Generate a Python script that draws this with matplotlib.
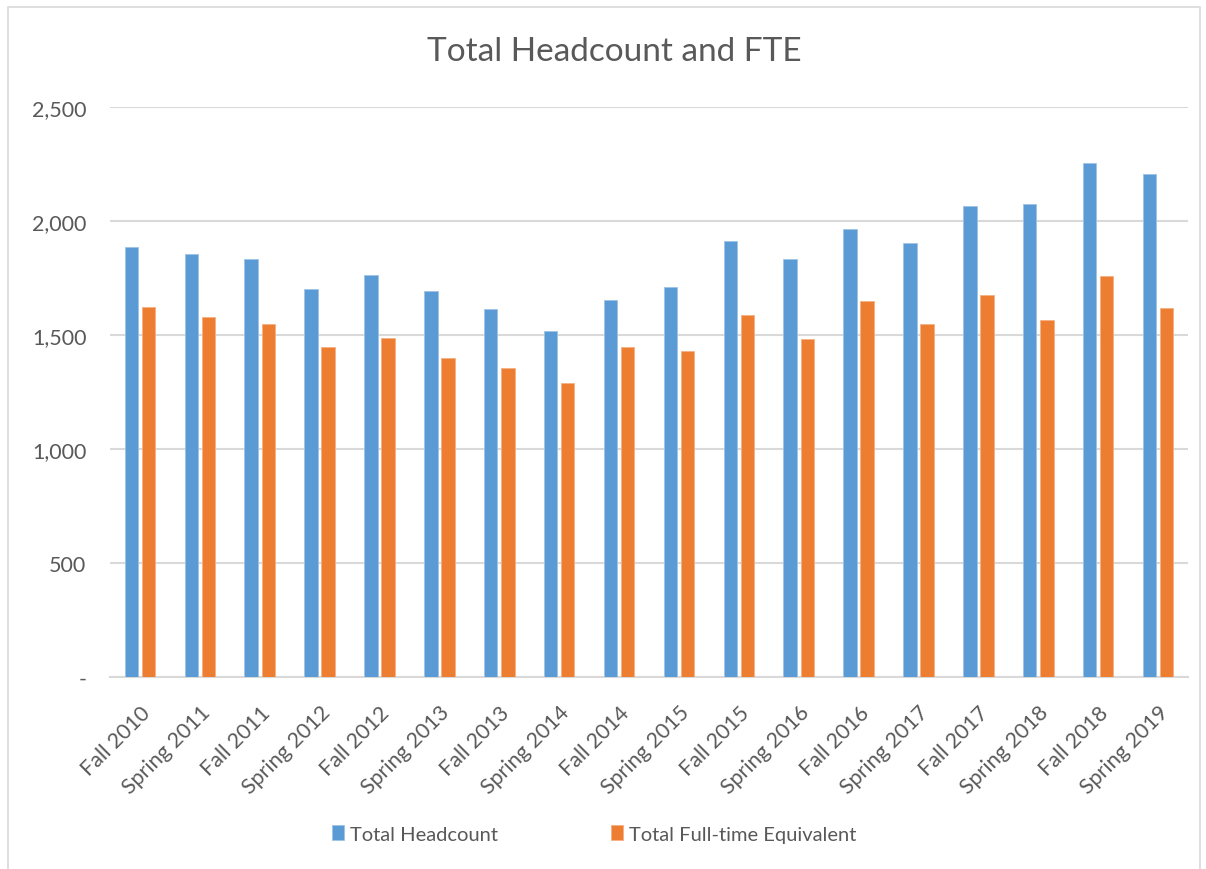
import matplotlib
matplotlib.use("Agg")
import matplotlib.pyplot as plt
import numpy as np
from matplotlib.patches import Rectangle
from matplotlib.ticker import FuncFormatter

categories = ["Fall 2010", "Spring 2011", "Fall 2011", "Spring 2012", "Fall 2012",
              "Spring 2013", "Fall 2013", "Spring 2014", "Fall 2014", "Spring 2015",
              "Fall 2015", "Spring 2016", "Fall 2016", "Spring 2017", "Fall 2017",
              "Spring 2018", "Fall 2018", "Spring 2019"]
headcount = [1886, 1854, 1832, 1700, 1762, 1694, 1615, 1518, 1655, 1711,
             1911, 1832, 1965, 1905, 2066, 2073, 2254, 2206]
fte = [1624, 1579, 1547, 1449, 1485, 1398, 1354, 1288, 1446, 1430,
       1589, 1481, 1648, 1548, 1675, 1566, 1759, 1617]
yticks = [0, 500, 1000, 1500, 2000, 2500]

plt.rcParams['font.family'] = ['Lato', 'DejaVu Sans']
txt = '#595959'

fig = plt.figure(figsize=(12.06, 8.7), dpi=100)
ax = fig.add_axes([110/1206, 1-678/870, (1188-110)/1206, (678-108)/870])

x = np.arange(len(categories))
w = 0.225
gap = 0.06
ax.bar(x - (w+gap)/2, headcount, width=w, color='#5B9BD5', edgecolor='#9DC3E6',
       linewidth=0.6, label='Total Headcount', zorder=3)
ax.bar(x + (w+gap)/2, fte, width=w, color='#ED7D31', edgecolor='#F4B183',
       linewidth=0.6, label='Total Full-time Equivalent', zorder=3)

ax.set_xlim(-0.5, len(categories) - 0.5)
ax.set_ylim(0, 2500)
ax.set_yticks(yticks)
ax.yaxis.set_major_formatter(FuncFormatter(lambda v, p: '-' if v == 0 else f'{int(v):,}'))
ax.grid(axis='y', color='#d9d9d9', linewidth=1.5, zorder=0)
for s in ['top', 'right', 'left']:
    ax.spines[s].set_visible(False)
ax.spines['bottom'].set_color('#d9d9d9')
ax.spines['bottom'].set_linewidth(1.5)
ax.tick_params(axis='both', length=0, labelsize=15.5, colors=txt)
ax.tick_params(axis='y', pad=17)
ax.set_xticks(x)
ax.set_xticklabels(categories, rotation=45, ha='right', rotation_mode='anchor')
ax.tick_params(axis='x', pad=18)

fig.text(0.509, 1-52/870, 'Total Headcount and FTE', ha='center', va='center',
         fontsize=24, color=txt)

leg = fig.legend(loc='center', bbox_to_anchor=(0.493, 1-835/870), ncol=2, frameon=False,
                 fontsize=14.5, handlelength=0.6, handleheight=0.75, handletextpad=0.3,
                 columnspacing=5.6, labelcolor=txt)

fig.patches.append(Rectangle((8/1206, -0.01), (1200-8)/1206, 1-8/870+0.01,
                             transform=fig.transFigure, fill=False,
                             edgecolor='#d9d9d9', linewidth=1.2))

fig.savefig('out.png', dpi=100)
